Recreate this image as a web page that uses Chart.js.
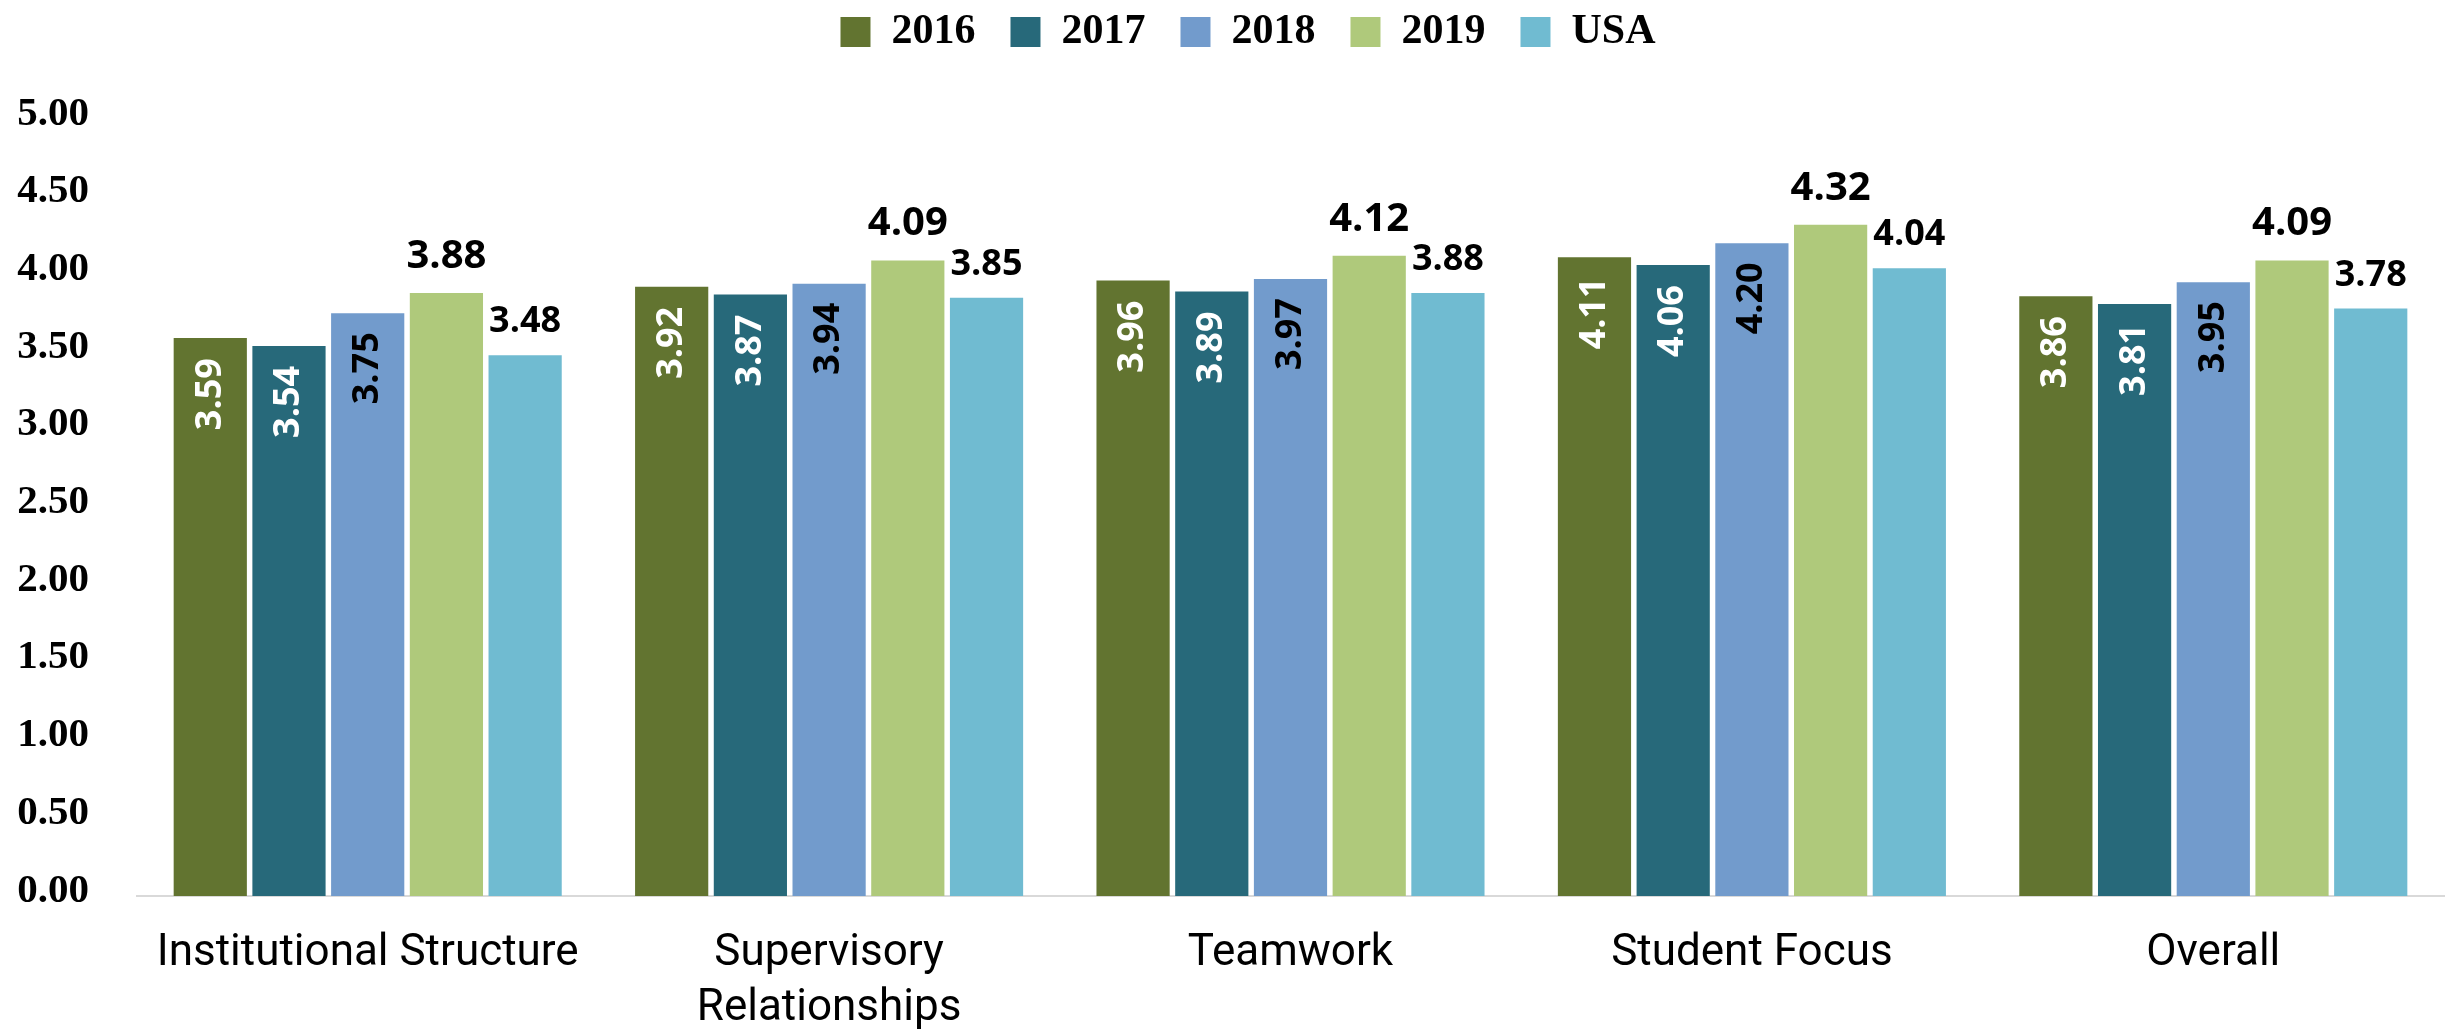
<!DOCTYPE html>
<html>
<head>
<meta charset="utf-8">
<script src="https://cdn.jsdelivr.net/npm/chart.js@4"></script>
<style>
  html, body { margin: 0; padding: 0; background: #fff; }
  #wrap { width: 2451px; height: 1030px; }
</style>
</head>
<body>
<div id="wrap"><canvas id="myChart"></canvas></div>
<script>
// chart values
var categories = ["Institutional Structure", ["Supervisory", "Relationships"], "Teamwork", "Student Focus", "Overall"];
var seriesNames = ["2016", "2017", "2018", "2019", "USA"];
var values2016 = [3.59, 3.92, 3.96, 4.11, 3.86];
var values2017 = [3.54, 3.87, 3.89, 4.06, 3.81];
var values2018 = [3.75, 3.94, 3.97, 4.20, 3.95];
var values2019 = [3.88, 4.09, 4.12, 4.32, 4.09];
var valuesUSA  = [3.48, 3.85, 3.88, 4.04, 3.78];
var yTicks = [0, 0.5, 1, 1.5, 2, 2.5, 3, 3.5, 4, 4.5, 5];

var colors = ['#627430', '#27697a', '#729bcc', '#afc97b', '#70bbd1'];

// how each series gets its value label
var labelStyles = [
  { inside: true, color: '#fff', size: 36, offset: 20 },
  { inside: true, color: '#fff', size: 36, offset: 20 },
  { inside: true, color: '#000', size: 36, offset: 19 },
  { inside: false, color: '#000', size: 40, offset: 25 },
  { inside: false, color: '#000', size: 36, offset: 23 }
];

var valueLabels = {
  id: 'valueLabels',
  afterDatasetsDraw: function(chart) {
    var ctx = chart.ctx;
    chart.data.datasets.forEach(function(ds, i) {
      var st = labelStyles[i];
      chart.getDatasetMeta(i).data.forEach(function(bar, j) {
        var txt = ds.data[j].toFixed(2);
        ctx.save();
        ctx.fillStyle = st.color;
        ctx.font = 'bold ' + st.size + 'px "Open Sans"';
        if (st.inside) {
          ctx.translate(bar.x, bar.y + st.offset);
          ctx.rotate(-Math.PI / 2);
          ctx.textAlign = 'right';
          ctx.textBaseline = 'middle';
          ctx.fillText(txt, 0, 0);
        } else {
          ctx.textAlign = 'center';
          ctx.textBaseline = 'alphabetic';
          ctx.fillText(txt, bar.x, bar.y - st.offset);
        }
        ctx.restore();
      });
    });
  }
};

// legend: keep wide item spacing but sit near the top, plot area starts lower
var legendSpace = {
  id: 'legendSpace',
  beforeInit: function(chart) {
    if (!chart.legend) return;
    var origFit = chart.legend.fit;
    chart.legend.fit = function() {
      origFit.call(this);
      this.height += 32;
    };
  },
  afterLayout: function(chart) {
    if (!chart.legend) return;
    chart.legend.top -= 24;
    chart.legend.bottom -= 24;
    chart.legend.left += 26;
    chart.legend.right += 26;
  }
};

var allValues = [values2016, values2017, values2018, values2019, valuesUSA];
var datasets = allValues.map(function(v, i) {
  return {
    label: seriesNames[i],
    data: v,
    backgroundColor: colors[i],
    categoryPercentage: 0.853,
    barPercentage: 0.93
  };
});

var ctx = document.getElementById("myChart").getContext('2d');
var myChart = new Chart(ctx, {
  type: 'bar',
  data: { labels: categories, datasets: datasets },
  plugins: [valueLabels, legendSpace],
  options: {
    responsive: true,
    maintainAspectRatio: false,
    animation: false,
    layout: { padding: { top: 0, right: 7, bottom: 0, left: 0 } },
    plugins: {
      tooltip: { enabled: false },
      legend: {
        position: 'top',
        labels: {
          boxWidth: 30,
          boxHeight: 30,
          padding: 35,
          color: '#000',
          font: { family: '"Liberation Serif"', size: 42, weight: 'bold' }
        }
      }
    },
    scales: {
      x: {
        grid: { display: false, drawTicks: false },
        border: { display: true, color: '#d9d9d9', width: 2 },
        ticks: {
          color: '#000',
          padding: 30,
          maxRotation: 0,
          autoSkip: false,
          font: { family: 'Roboto', size: 44, lineHeight: 1.25 }
        },
        afterFit: function(scale) { scale.height = 134; }
      },
      y: {
        min: 0,
        max: 5,
        grid: { display: false, drawTicks: false },
        border: { display: false },
        afterBuildTicks: function(scale) {
          scale.ticks = yTicks.map(function(v) { return { value: v }; });
        },
        ticks: {
          color: '#000',
          padding: 48,
          labelOffset: -5,
          font: { family: '"Liberation Serif"', size: 41, weight: 'bold' },
          callback: function(v) { return Number(v).toFixed(2); }
        },
        afterFit: function(scale) { scale.width = 137; }
      }
    }
  }
});
</script>
</body>
</html>
